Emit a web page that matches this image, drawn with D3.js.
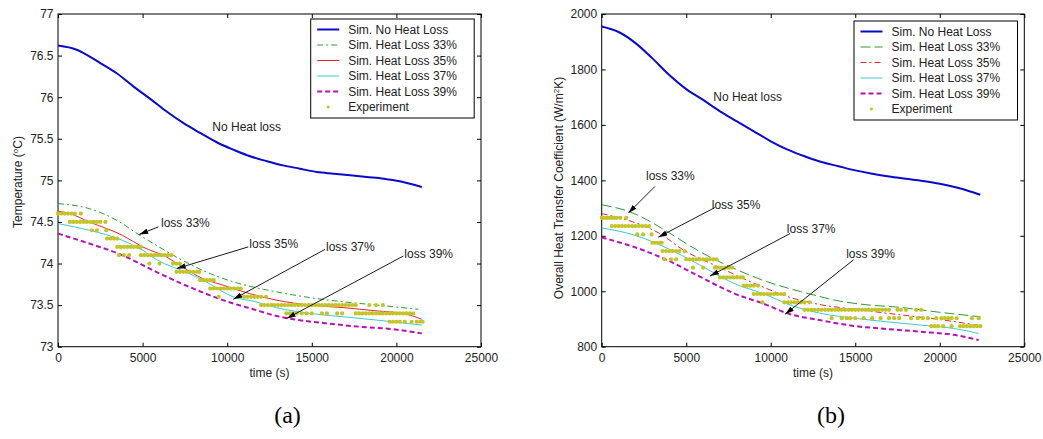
<!DOCTYPE html>
<html>
<head>
<meta charset="utf-8">
<script src="https://cdn.jsdelivr.net/npm/d3@7"></script>
<style>
  body { margin: 0; background: #fff; }
  text { font-family: "Liberation Sans", Arial, sans-serif; }
  text.tag { font-family: "Liberation Serif", "Times New Roman", serif; }
</style>
</head>
<body>
<svg id="fig" width="1043" height="439"></svg>
<script>
// tick values
const timeTicks = [0, 5000, 10000, 15000, 20000, 25000];
const tempTicks = [73, 73.5, 74, 74.5, 75, 75.5, 76, 76.5, 77];
const coefTicks = [800, 1000, 1200, 1400, 1600, 1800, 2000];

const legendNames = ["Sim. No Heat Loss", "Sim. Heat Loss 33%", "Sim. Heat Loss 35%",
                     "Sim. Heat Loss 37%", "Sim. Heat Loss 39%", "Experiment"];

// (a) temperature, [time (s), degC]
const tempNoLoss = [[0,76.62],[1100,76.57],[1700,76.51],[2500,76.41],[3450,76.29],[4450,76.13],[5450,75.98],[6400,75.83],[7400,75.69],[8400,75.57],[9550,75.44],[10350,75.37],[11350,75.29],[12350,75.23],[13300,75.18],[14300,75.14],[15300,75.10],[16300,75.08],[18250,75.04],[19250,75.02],[20200,74.99],[21500,74.92]];
const temp33 = [[0,74.72],[1850,74.66],[3800,74.48],[4600,74.37],[5800,74.22],[7350,74.04],[8750,73.90],[10350,73.78],[11700,73.71],[12900,73.66],[14900,73.59],[16850,73.54],[18850,73.50],[21300,73.45]];
const temp35 = [[0,74.63],[700,74.60],[1850,74.50],[3800,74.34],[5000,74.20],[6400,74.08],[7350,73.96],[8550,73.82],[9750,73.74],[11300,73.64],[12900,73.56],[14900,73.50],[16850,73.47],[18850,73.43],[20400,73.40],[21500,73.33]];
const temp37 = [[0,74.48],[1850,74.40],[3800,74.28],[5000,74.16],[5800,74.05],[7750,73.88],[8750,73.78],[10350,73.60],[11700,73.54],[12900,73.47],[14900,73.40],[16850,73.36],[18850,73.32],[21500,73.26]];
const temp39 = [[0,74.36],[1850,74.24],[3800,74.10],[5800,73.90],[7750,73.72],[9750,73.56],[11700,73.44],[12900,73.37],[13900,73.33],[15900,73.28],[17850,73.24],[19800,73.21],[21500,73.16]];

// (a) experiment: [level, times]
const tempExp = [
  [74.6, [0,200,400,600,800,1000,1350]],
  [74.5, [700,900,1100,1300,1500,1700,1900,2100,2300,2500,2800]],
  [74.4, [2000,2300,2850]],
  [74.3, [2900,3100,3300,3500]],
  [74.2, [3500,3700,3900,4100,4300,4500,4700,4900]],
  [74.1, [3600,3900,4200,4900,5100,5300,5500,5700,5900,6100,6300,6500,6700]],
  [74.0, [5400,6000,6800,7000,7200]],
  [73.9, [7000,7200,7400,7600,7800,8000,8200,8350]],
  [73.8, [8400,8600,8800,9000,9200]],
  [73.7, [9000,9200,9400,9600,9800,10000,10200,10400,10600,10800]],
  [73.6, [9500,10800,11000,11200,11400,11600,11800,12000,12300]],
  [73.5, [12000,12200,12400,12600,12800,13000,13200,13400,13600,13800,14000,14200,14400,14600,14800,15000,15200,15400,15600,15800,16000,16200,16400,16600,16800,17000,17200,17400,17600,18400,18800,19200]],
  [73.4, [13500,13700,13900,14100,14400,14700,15000,15600,15900,16500,16800,17600,17800,18000,18200,18400,18600,18800,19000,19200,19400,19600,19800,20000,20200,20400,20600,20800,21000]],
  [73.3, [19600,19800,20000,20200,20500,20900,21200,21400,21550]]
];

// (b) overall heat transfer coefficient, [time (s), W/m2K]
const coefNoLoss = [[0,1955],[1000,1935],[2000,1895],[3000,1840],[4000,1780],[5000,1729],[6000,1690],[7000,1649],[8000,1613],[9000,1577],[10000,1541],[11000,1511],[12000,1487],[13000,1466],[14000,1451],[15000,1436],[16000,1424],[17000,1414],[18000,1406],[19000,1398],[20000,1388],[21000,1374],[21800,1360],[22400,1348]];
const coef33 = [[0,1312],[1850,1282],[2850,1252],[3850,1216],[5800,1143],[7800,1083],[9750,1035],[11750,999],[12900,981],[13700,969],[15700,951],[17650,942],[19600,927],[22400,908]];
const coef35 = [[0,1280],[1850,1250],[3550,1204],[4650,1156],[7000,1085],[9350,1020],[11300,975],[13000,951],[15000,935],[17650,915],[20000,898],[22400,876]];
const coef37 = [[0,1228],[1850,1204],[3850,1156],[5800,1095],[7800,1029],[9750,987],[10950,955],[12900,921],[14900,903],[16850,890],[18850,878],[20800,866],[22300,848]];
const coef39 = [[0,1194],[1850,1161],[3850,1113],[5800,1053],[7800,993],[9750,951],[10950,921],[12900,896],[14900,875],[16850,864],[18850,854],[20800,843],[22300,824]];

const coefExp = [
  [1265, [0,150,300,450,600,750,900,1100,1450]],
  [1235, [600,800,1000,1200,1400,1600,1800,2000,2200,2400,2600,2800]],
  [1205, [2100,2450,2950]],
  [1175, [3000,3150,3300,3450,3550]],
  [1145, [3600,3800,4000,4200,4400,4600,4900]],
  [1115, [3700,4100,4400,5000,5200,5400,5600,5800,6000,6200,6400,6600,6800]],
  [1085, [5400,6000,6700,6900,7100,7300,7500,7700]],
  [1050, [7000,7200,7400,7600,7800,8000,8200,8350]],
  [1020, [8400,8600,8800,9000,9250]],
  [990,  [9000,9200,9400,9600,9800,10000,10200,10400,10600,10800]],
  [960,  [9500,10800,11000,11200,11400,11600,11800,12000,12300]],
  [933,  [12000,12200,12400,12600,12800,13000,13200,13400,13600,13800,14000,14200,14400,14600,14800,15000,15200,15400,15600,15800,16000,16200,16400,16600,16800,17000,17500,17700,18000,18600,18900]],
  [903,  [13600,14200,14500,14700,15000,15500,16000,16500,17000,17300,17600,18300,18700,19000,19300,19800,20100,20300,20500,20700,21000,21900,22300]],
  [874,  [19500,19700,19900,20200,20700,21200,21400,21600,21800,22000,22200,22400]]
];

// annotations in data units: text anchor, arrow tail, arrow tip
const tempNotes = [
  {text: "No Heat loss", at: [9120, 75.593]},
  {text: "loss 33%", at: [6090, 74.44], from: [5930, 74.44], to: [4800, 74.35]},
  {text: "loss 35%", at: [11310, 74.19], from: [11250, 74.20], to: [7020, 73.94]},
  {text: "loss 37%", at: [15840, 74.15], from: [15780, 74.17], to: [10360, 73.57]},
  {text: "loss 39%", at: [20470, 74.07], from: [20410, 74.09], to: [13520, 73.34]}
];
const coefNotes = [
  {text: "No Heat loss", at: [6600, 1686]},
  {text: "loss 33%", at: [2620, 1402], from: [3150, 1378], to: [1575, 1282]},
  {text: "loss 35%", at: [6510, 1298], from: [6700, 1302], to: [3350, 1195]},
  {text: "loss 37%", at: [10950, 1210], from: [11140, 1208], to: [6410, 1055]},
  {text: "loss 39%", at: [14460, 1120], from: [14890, 1113], to: [10850, 917]}
];

// line styles per series
const BLUE = "#0a0ac8", GREEN = "#319a31", RED = "#e02828", CYAN = "#3cc8d2", MAG = "#b414b4", DOT = "#c4c42a";
const stylesA = [
  {c: BLUE, w: 2, d: null},
  {c: GREEN, w: 1, d: "6,3,2,3"},
  {c: RED, w: 1, d: null},
  {c: CYAN, w: 1, d: null},
  {c: MAG, w: 2, d: "5,3"}
];
const stylesB = [
  {c: BLUE, w: 2, d: null},
  {c: GREEN, w: 1, d: "10,4"},
  {c: RED, w: 1, d: "6,3,2,3"},
  {c: CYAN, w: 1, d: null},
  {c: MAG, w: 2, d: "5,3"}
];

const svg = d3.select("#fig");

svg.append("defs").append("marker")
    .attr("id", "arrow")
    .attr("viewBox", "0 0 10 6")
    .attr("refX", 10).attr("refY", 3)
    .attr("markerWidth", 9).attr("markerHeight", 5.5)
    .attr("markerUnits", "userSpaceOnUse")
    .attr("orient", "auto")
  .append("path")
    .attr("d", "M0,0L10,3L0,6Z")
    .attr("fill", "#000");

const panels = [
  {tag: "(a)", x0: 58, x1: 481, yDomain: [73, 77], yTicks: tempTicks,
   ylabel: [["Temperature (", false], ["o", true], ["C)", false]], labelX: 22, labelY: 182,
   sims: [tempNoLoss, temp33, temp35, temp37, temp39], styles: stylesA,
   exp: tempExp, notes: tempNotes, legX: 310.7, legY: 19},
  {tag: "(b)", x0: 601.7, x1: 1024.3, yDomain: [800, 2000], yTicks: coefTicks,
   ylabel: [["Overall Heat Transfer Coefficient (W/m", false], ["2", true], ["K)", false]], labelX: 563, labelY: 188,
   sims: [coefNoLoss, coef33, coef35, coef37, coef39], styles: stylesB,
   exp: coefExp, notes: coefNotes, legX: 854, legY: 21}
];

const yTop = 14, yBot = 346.7;

panels.forEach(p => {
  const x = d3.scaleLinear().domain([0, 25000]).range([p.x0, p.x1]);
  const y = d3.scaleLinear().domain(p.yDomain).range([yBot, yTop]);
  const g = svg.append("g");

  // axes, ticks pointing inward on all four sides
  const styleAxis = sel => {
    sel.select(".domain").remove();
    sel.selectAll("line").attr("stroke", "#000");
    sel.selectAll("text").attr("font-size", "12px").attr("fill", "#222");
  };
  g.append("g").attr("transform", `translate(0,${yBot})`)
    .call(d3.axisBottom(x).tickValues(timeTicks).tickFormat(d3.format("d"))
      .tickSizeInner(-4).tickSizeOuter(0).tickPadding(6.5))
    .call(styleAxis);
  g.append("g").attr("transform", `translate(0,${yTop})`)
    .call(d3.axisTop(x).tickValues(timeTicks).tickFormat(() => "")
      .tickSizeInner(-4).tickSizeOuter(0))
    .call(styleAxis);
  g.append("g").attr("transform", `translate(${p.x0},0)`)
    .call(d3.axisLeft(y).tickValues(p.yTicks).tickFormat(d => d)
      .tickSizeInner(-4).tickSizeOuter(0).tickPadding(4.5))
    .call(styleAxis);
  g.append("g").attr("transform", `translate(${p.x1},0)`)
    .call(d3.axisRight(y).tickValues(p.yTicks).tickFormat(() => "")
      .tickSizeInner(-4).tickSizeOuter(0))
    .call(styleAxis);

  g.append("rect")
    .attr("x", p.x0).attr("y", yTop)
    .attr("width", p.x1 - p.x0).attr("height", yBot - yTop)
    .attr("fill", "none").attr("stroke", "#000").attr("stroke-width", 1);

  // simulated curves
  const line = d3.line().x(d => x(d[0])).y(d => y(d[1])).curve(d3.curveMonotoneX);
  p.sims.forEach((s, i) => {
    const st = p.styles[i];
    g.append("path").datum(s)
      .attr("d", line)
      .attr("fill", "none")
      .attr("stroke", st.c)
      .attr("stroke-width", st.w)
      .attr("stroke-dasharray", st.d);
  });

  // experiment points
  const pts = [];
  p.exp.forEach(([v, times]) => times.forEach(t => pts.push([t, v])));
  g.append("g").selectAll("circle").data(pts).enter().append("circle")
    .attr("cx", d => x(d[0])).attr("cy", d => y(d[1]))
    .attr("r", 2.1).attr("fill", DOT);

  // annotations
  p.notes.forEach(n => {
    if (n.from) {
      g.append("line")
        .attr("x1", x(n.from[0])).attr("y1", y(n.from[1]))
        .attr("x2", x(n.to[0])).attr("y2", y(n.to[1]))
        .attr("stroke", "#000").attr("stroke-width", 0.9)
        .attr("marker-end", "url(#arrow)");
    }
    g.append("text")
      .attr("x", x(n.at[0])).attr("y", y(n.at[1]))
      .attr("font-size", "12px").attr("fill", "#222")
      .text(n.text);
  });

  // axis titles
  g.append("text")
    .attr("x", (p.x0 + p.x1) / 2).attr("y", 376.5)
    .attr("text-anchor", "middle").attr("font-size", "12px").attr("fill", "#222")
    .text("time (s)");

  const yl = g.append("text")
    .attr("transform", `translate(${p.labelX},${p.labelY}) rotate(-90)`)
    .attr("text-anchor", "middle").attr("font-size", "12px").attr("fill", "#222");
  p.ylabel.forEach(([s, sup]) => {
    const ts = yl.append("tspan").text(s);
    if (sup) ts.attr("font-size", "8px").attr("baseline-shift", "super");
  });

  // legend
  const lg = g.append("g").attr("transform", `translate(${p.legX},${p.legY})`);
  lg.append("rect").attr("width", 163.5).attr("height", 99)
    .attr("fill", "#fff").attr("stroke", "#000").attr("stroke-width", 1);
  legendNames.forEach((name, i) => {
    const ry = 10.5 + i * 15.5;
    if (i < 5) {
      const st = p.styles[i];
      lg.append("line").attr("x1", 6.5).attr("x2", 28.5).attr("y1", ry).attr("y2", ry)
        .attr("stroke", st.c).attr("stroke-width", st.w).attr("stroke-dasharray", st.d);
    } else {
      lg.append("circle").attr("cx", 17.5).attr("cy", ry).attr("r", 1.6).attr("fill", DOT);
    }
    lg.append("text").attr("x", 37.5).attr("y", ry).attr("dy", "0.35em")
      .attr("font-size", "12px").attr("fill", "#222").text(name);
  });

  // panel tag
  g.append("text")
    .attr("class", "tag")
    .attr("x", (p.x0 + p.x1) / 2 + 18).attr("y", 422.5)
    .attr("text-anchor", "middle")
    .attr("font-size", "24px").attr("fill", "#000")
    .text(p.tag);
});
</script>
</body>
</html>
